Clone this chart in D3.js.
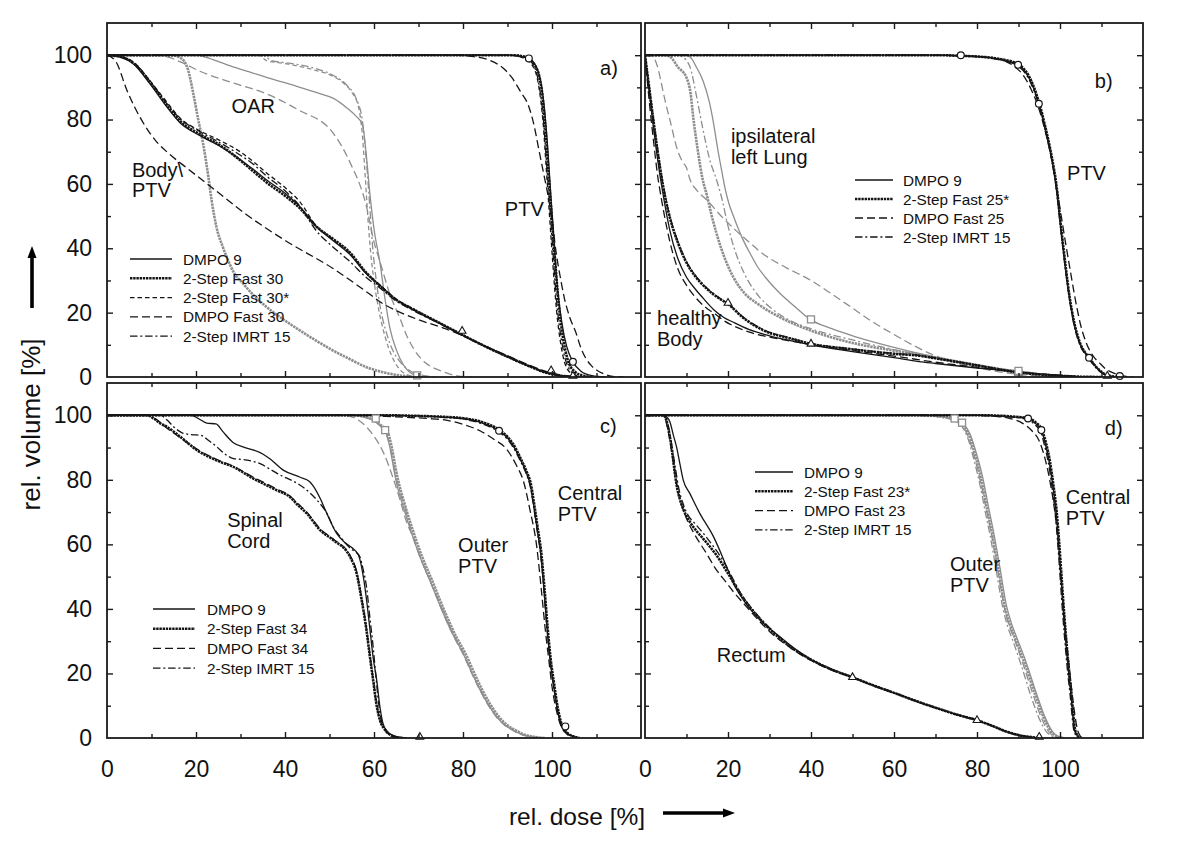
<!DOCTYPE html>
<html><head><meta charset="utf-8">
<script src="https://cdn.jsdelivr.net/npm/d3@7"></script>
<style>
body{margin:0;background:#fff;}
svg{display:block;font-family:"Liberation Sans",Arial,Helvetica,sans-serif;}
</style></head><body>
<svg id="chart" width="1200" height="845"></svg>
<script>
// ---------- tick values ----------
const doseLabels = [0, 20, 40, 60, 80, 100];
const volLabels = [0, 20, 40, 60, 80, 100];
const doseMajor = [20, 40, 60, 80, 100];
const doseMinor = [10, 30, 50, 70, 90, 110];
const volMajor = [20, 40, 60, 80, 100];
const volMinor = [10, 30, 50, 70, 90];

// ---------- legends ----------
const legendA = ['DMPO 9', '2-Step Fast 30', '2-Step Fast 30*', 'DMPO Fast 30', '2-Step IMRT 15'];
const legendB = ['DMPO 9', '2-Step Fast 25*', 'DMPO Fast 25', '2-Step IMRT 15'];
const legendC = ['DMPO 9', '2-Step Fast 34', 'DMPO Fast 34', '2-Step IMRT 15'];
const legendD = ['DMPO 9', '2-Step Fast 23*', 'DMPO Fast 23', '2-Step IMRT 15'];

// ---------- panel a: [dose %, volume %] ----------
const a_ptv_dmpo9 = [[0,100],[90,100],[93,99.6],[95.5,98.2],[97,94.5],[98,87],[99,72],[99.8,55],[100.5,41],[101.2,28],[102.2,17],[103.3,9.5],[104.7,4.7],[106.5,1.8],[109,0.4],[112,0]];
const a_ptv_2sf30 = [[0,100],[91,100],[94,99.5],[96,97.2],[97.5,91],[98.5,78],[99.3,62],[100,49],[100.7,36],[101.5,23],[102.5,12],[103.5,5.5],[105,1.8],[107,0.4],[109,0]];
const a_ptv_2sf30s = [[0,100],[90,100],[93,99.4],[95.5,97],[97,90.5],[98,79],[98.8,63],[99.5,49],[100.2,35],[101,21],[102,10],[103,3.8],[104.5,0.9],[106,0]];
const a_ptv_dmpof30 = [[0,100],[78,100],[82,99.6],[86,98.4],[89,96],[91,93],[93,88.5],[94.8,84],[96,78],[97,71],[98.3,62],[99.3,55],[100,49],[100.9,39],[102,30],[102.7,25],[104,18.5],[105.4,13.7],[106.5,9],[107.6,5.8],[109,3.3],[110,2.2],[112,0.8],[114,0.1],[116,0]];
const a_ptv_imrt15 = [[0,100],[90.5,100],[93.5,99.5],[95.5,97.6],[97,91.5],[98,81],[98.8,66],[99.6,51],[100.3,37],[101,24],[102,12.5],[103,5.5],[104.5,1.4],[106,0.2],[107.5,0]];

const a_body_dmpo9 = [[0,100],[3,99.4],[6,97.2],[9.7,91],[13.4,84],[16.4,79],[20.9,75],[25.4,71.7],[29.9,67.6],[32.8,64.6],[35.8,61.3],[40.3,56.8],[43.3,53],[47,46.8],[50.7,42.5],[54.5,38.2],[58.2,32.2],[61.4,28.4],[65,24],[69,20.8],[75,16.5],[80,12.9],[85,9.5],[91,5.7],[95,3.3],[99,1.3],[102,0.4],[106,0]];
const a_body_2sf30 = [[0,100],[3,99.5],[6,97.5],[9.7,91.6],[13.4,84.6],[16.4,79.6],[20.9,75.4],[25.4,72],[29.9,67.4],[32.8,64],[35.8,60.5],[40.3,56],[43.3,52.5],[47,46.8],[50.7,43],[54.5,38.8],[58.2,32.5],[61.4,28.2],[65,24],[69,20.9],[75,16.6],[80,13],[85,9.5],[91,5.7],[95,3.3],[99,1.2],[102,0.4],[106,0]];
const a_body_2sf30s = [[0,100],[3,99.6],[6,97.8],[9.7,92],[13.4,85.5],[16.4,80.5],[20.9,76.5],[25.4,73.5],[29.9,70],[32.8,67],[35.8,63.5],[40.3,58.5],[43.3,54.5],[47,47],[50.7,42.8],[54.5,38.5],[58.2,32.4],[61.4,28.5],[65,24.2],[69,21],[75,16.6],[80,13],[85,9.6],[91,5.8],[95,3.4],[99,1.3],[102,0.4],[106,0]];
const a_body_imrt15 = [[0,100],[3,99.5],[6,97.6],[9.7,91.8],[13.4,85],[16.4,80.3],[20.9,76.2],[25.4,72.8],[29.9,69],[32.8,66.2],[35.8,62.5],[40.3,57.5],[43.3,53.2],[47,45.5],[50.7,40.5],[54.5,36],[58.2,31],[61.4,27.6],[65,23.6],[69,20.5],[75,16.4],[80,12.8],[85,9.4],[91,5.6],[95,3.2],[99,1.2],[102,0.4],[106,0]];
const a_body_dmpof30 = [[0,100],[2,98],[4.5,89],[7.5,80.5],[11.2,73],[14,69.3],[17.9,65],[23.9,58.5],[31.3,50.5],[40.3,42.2],[50.7,33.8],[58,26.8],[62,22.8],[66,20],[70,17.8],[76,15],[80,12.8],[85,9.6],[91,6],[95,3.6],[99,1.6],[102,0.6],[106,0]];

const a_oar_dmpo9 = [[0,100],[20,100],[23,99],[27,97],[32,94.8],[36,93],[42,90.6],[48,88],[51,86.5],[54,83.5],[56,81],[57.4,78.5],[58.2,70],[59,58],[60,46],[61.4,35],[62.5,24],[63.6,15],[65,8.5],[66.5,4],[68,1.5],[70,0.3],[72,0]];
const a_oar_2sf30 = [[0,100],[14.5,100],[16.5,99.2],[18.2,95.5],[19.4,88],[20.5,80],[21.6,72.5],[22.8,62],[23.5,55],[24.6,46.6],[26,40.5],[26.9,37.3],[28.5,32.5],[30.6,29],[33,25.3],[35.8,21.8],[39.5,18],[43.3,14.5],[47,11.3],[50.7,8.3],[54.5,5.6],[58.2,3.1],[62,1.5],[65.7,0.5],[69.7,0]];
const a_oar_2sf30s = [[0,100],[34,100],[36,98.2],[40,97.4],[46,95.6],[50.7,93.5],[53,91.5],[55,88.5],[56.5,84],[57.4,75],[58,63],[58.6,50],[59.3,38],[60.2,28],[61.2,20],[62.5,12.5],[64,6.5],[65.5,2.8],[67.5,0.7],[70,0]];
const a_oar_imrt15 = [[0,100],[35,100],[37,98.3],[41,97.5],[47,95.8],[51,93.6],[54,90.5],[56,86.5],[57.4,79.5],[58.3,67],[59,54],[59.6,42],[60.5,30],[61.5,21],[62.8,13.7],[64.5,7.5],[65.7,5],[68,2],[71,0.5],[74,0]];
const a_oar_dmpof30 = [[0,100],[12,100],[14,99.3],[17,97.6],[20.9,95],[28,91.5],[35.8,88],[43,83],[50.7,76],[54.5,67],[58.3,53],[60,42],[61.4,35.6],[63.5,26],[65.9,18],[67.3,13],[68.9,8.8],[71.5,4.5],[74.9,2],[79,0.3],[82,0]];

const a_circles = [[94.8,99],[104.7,4.7]];
const a_triangles = [[79.8,14.3],[99.8,2],[104.7,0.3]];
const a_squares = [[69.7,0.5]];

// ---------- panel b ----------
const b_ptv_dmpo9 = [[0,100],[70,100],[76.1,99.8],[82,99.4],[86,98.6],[89.9,97],[92.5,93],[94.9,85],[96.5,77],[98,68],[99.1,59],[100.3,45],[101.3,34],[102.3,24.5],[103.5,16],[104.7,10.7],[107,6],[109.6,1.9],[111.5,0.4],[114,0]];
const b_ptv_2sf25s = [[0,100],[70,100],[76.1,99.8],[82,99.4],[86,98.7],[89.9,97.2],[92.5,93.5],[94.9,85.5],[96.5,77.5],[98,68.5],[99.1,60],[100.3,46],[101.3,35],[102.3,25],[103.5,16.5],[104.7,11],[107,6],[109.6,2],[111.5,0.5],[114,0]];
const b_ptv_imrt15 = [[0,100],[70,100],[76.1,99.8],[82,99.3],[86,98.4],[89.9,96.6],[92.5,92.5],[94.9,84.5],[96.5,76.5],[98,67.5],[99.1,58.5],[100.3,44.5],[101.3,33.5],[102.3,24],[103.5,15.5],[104.7,10.3],[107,5.6],[109.6,1.7],[111.5,0.4],[114,0]];
const b_ptv_dmpof25 = [[0,100],[72,100],[79,99.6],[84,99],[87,98],[89,96.5],[91,94],[93,89.5],[95,83],[96.7,75],[98.3,65.5],[99.3,58],[100.3,50],[101.3,42],[102.3,34.4],[104,22],[105,16],[106.3,10.7],[108,6.5],[109.5,4.4],[111,2.5],[112.8,1.3],[115,0.4],[117.6,0]];

const b_body_dmpo9 = [[0,100],[1,89],[2,78],[3,68],[4,59.5],[5,52],[6,45.5],[8,36.5],[10,31],[12,27.5],[14,24.5],[16.5,21],[19,18.5],[21.3,17],[25,14.8],[30,12.8],[35,11.3],[40,10],[50,7.9],[60,6],[66,4.8],[70,4.2],[80,2.8],[90,1.5],[100,0.5],[105,0.1],[110,0]];
const b_body_2sf25s = [[0,100],[1,90],[2,80],[3,70.5],[4,62],[5,55],[6,49.5],[8,41.5],[10,35.5],[12,31.5],[15,27.3],[18,24.3],[20,22.7],[23.5,18.6],[28.7,14.4],[35,12],[40,10.3],[50,8.6],[60,7.2],[66,6.6],[70,5.8],[80,3.6],[90,1.4],[100,0.4],[105,0.1],[110,0]];
const b_body_imrt15 = [[0,100],[1,90.5],[2,80.5],[3,71],[4,62.5],[5,55.5],[6,49.8],[8,41.8],[10,35.8],[12,31.8],[15,27.5],[18,24.5],[20,22.8],[23.5,18.8],[28.7,14.6],[35,12.1],[40,10.4],[50,8.7],[60,7.3],[66,6.7],[70,5.9],[80,3.7],[90,1.5],[100,0.4],[105,0.1],[110,0]];
const b_body_dmpof25 = [[0,100],[1,86],[2,74],[3,63],[4,55],[5,48],[6,42],[7.8,34],[10,28.5],[12,25],[15,21.2],[17,19.5],[19,17.5],[22,15.5],[25,14],[30,12.4],[35,11.2],[40,10.1],[50,8.2],[60,6.5],[70,4.6],[80,3],[90,1.5],[100,0.5],[106,0]];

const b_lung_dmpo9 = [[0,100],[9.5,100],[11,99.3],[12.3,96.5],[14,92],[15.5,85.5],[16.5,79],[17.5,71],[18.5,64],[19.4,58],[20.2,54],[21.3,50],[23.5,43],[25.5,38],[27,34.5],[29,31],[32.5,26],[36,22],[39.8,17.9],[45,15],[51,12.4],[60,9.2],[66,7.3],[75,4.8],[85,2.6],[90,1.9],[95,1],[100,0.4],[105,0]];
const b_lung_2sf25s = [[0,100],[5,100],[6.5,99],[7.8,96.5],[10,93],[11,88],[11.6,81],[12.7,70.6],[13.8,62],[15,56],[16,50.5],[18.3,40.2],[21.3,31],[24,26],[27.2,22.7],[32.5,18.6],[40,14.4],[51,10.3],[60,8.2],[66,7],[75,4.9],[85,2.6],[95,0.8],[102,0]];
const b_lung_imrt15 = [[0,100],[8,100],[9,99.5],[10.8,96.5],[12.3,88],[13.8,78],[15.5,68],[17.3,61],[18.7,54.5],[19.8,48],[21.5,40],[24,32],[27.5,25],[30.2,21.6],[35,17.5],[40,15],[50,11.5],[60,8.5],[70,5.8],[80,3.4],[90,1.5],[100,0.3],[104,0]];
const b_lung_dmpof25 = [[0,100],[1,100],[1.9,99.5],[3,96.5],[4.1,90.3],[5,85],[6,79.9],[7.8,70.6],[9,67],[10,65],[10.8,61.5],[12.5,58],[14.9,55],[18,50.5],[22,45.4],[25,42],[28.7,38],[34,34],[40,30],[45,25.8],[50,21.4],[55,17],[60,13.2],[65,9.6],[70,6.6],[75,4.5],[80,2.9],[85,1.7],[90,0.8],[95,0.3],[100,0]];

const b_circles = [[76.1,100],[89.9,97],[94.9,84.9],[107,6],[114.4,0.3]];
const b_triangles = [[20,23],[40,10.3],[90,1.3],[111.4,0.3]];
const b_squares = [[40,17.9],[90,1.9]];

// ---------- panel c ----------
const c_sc_dmpo9 = [[0,100],[19,100],[20.5,99],[22.4,97.6],[24.5,97.3],[26,95],[28.4,91.5],[31,90],[33,89.2],[35,88],[36.6,86.5],[39.6,83],[43.4,80.8],[45.5,79.5],[46.4,78],[48,74],[49.4,69.6],[51.6,63.4],[53.5,60.5],[55,59],[56.5,56.7],[57.6,50],[58.4,42],[59.1,33.5],[59.8,25],[60.6,18],[61.3,10],[62,4.6],[63,2],[64.3,0.8],[66,0.2],[67.3,0]];
const c_sc_2sf34 = [[0,100],[9,100],[10.5,99],[12,97.5],[13.5,96.4],[16.5,93.3],[20.2,89.2],[24.7,86],[28.4,84],[32.9,80.4],[38.1,76.8],[41.1,74.7],[43,72],[44.9,69.6],[47.9,64.4],[50.9,61.3],[54.6,56.2],[56.1,51],[57.2,43],[58.3,33.5],[59.1,25],[59.8,18],[60.6,10],[61.3,5.7],[62.5,2.5],[63.6,1],[65,0.2],[66.5,0]];
const c_sc_dmpof34 = [[0,100],[9.5,100],[11,98.8],[13,96.5],[16.5,93],[20.2,89.5],[24.7,86.3],[28.4,84.2],[32.9,80.8],[38.1,77.2],[41.1,75],[43,72.5],[44.9,70],[47.9,64.8],[50.9,61.6],[54.6,56.6],[56.1,51.5],[57.2,43.5],[58.3,34],[59.1,25.5],[59.8,18.5],[60.6,10.5],[61.3,6],[62.5,2.7],[63.6,1.1],[65,0.2],[66.5,0]];
const c_sc_imrt15 = [[0,100],[12,100],[13.5,98.5],[15,96.4],[17,94.5],[19,94],[21,93.8],[23,92],[24.7,90.2],[26.5,88],[28.4,86.6],[31,86.2],[34.4,85],[37,83],[39.6,81],[42,79.5],[44.9,76.8],[47,74],[49.4,69.6],[51,65],[52.4,62.4],[54.5,59],[56.8,56.2],[57.6,52],[58.3,47],[59.1,37],[59.8,28.4],[60.5,18],[61.2,9],[62,4],[63.5,1],[66,0]];

const c_out_dmpo9 = [[0,100],[55,100],[57.5,99.5],[59.5,98.6],[61,97.2],[62.5,95.4],[63.5,90.5],[64.3,84.5],[64.9,80],[66.5,72],[68.7,62.4],[70.5,55.5],[72.5,49],[74.4,42.5],[76.2,36.6],[78,31.3],[80,26.3],[81.9,20.5],[83.8,15],[85.6,10.5],[87.5,6.7],[89.4,4],[91.3,2.4],[93,1.2],[95,0.5],[98,0]];
const c_out_2sf34 = [[0,100],[56,100],[58,99.5],[60,98.5],[61.5,97],[63,95],[64,90],[64.8,84],[65.4,80],[67,72],[69.2,62.4],[71,55.5],[73,49],[74.9,42.5],[76.7,36.6],[78.5,31.3],[80.5,26.3],[82.4,20.5],[84.3,15],[86.1,10.5],[88,6.7],[89.9,4],[91.8,2.4],[93.5,1.2],[95.5,0.5],[98.5,0]];
const c_out_dmpof34 = [[0,100],[52,100],[55,99.5],[57,98],[58.3,96.4],[60,93.5],[62.1,88.5],[64.3,80.5],[65.8,74],[67.3,67],[68.7,62.4],[70.5,55.5],[72.5,49],[74.4,42.5],[76.2,36.6],[78,31.3],[80,26],[81.9,20.2],[83.8,14.8],[85.6,10.3],[87.5,6.5],[89.4,3.9],[91.3,2.3],[93,1.1],[95,0.4],[98,0]];
const c_out_imrt15 = [[0,100],[55.5,100],[58,99.4],[60,98.2],[61.5,96.5],[62.8,94],[63.8,89],[64.6,83],[65.3,79],[67,71],[69,61.5],[71,54],[73,47.5],[74.9,41.5],[76.6,36],[78.3,31],[80.2,26],[82,20.3],[84,14.8],[85.8,10.3],[87.7,6.5],[89.6,3.9],[91.5,2.3],[93.2,1.1],[95.2,0.4],[98,0]];

const c_cen_dmpo9 = [[0,100],[60,100],[70,99.8],[76,99.4],[80,99],[84,97.8],[88.1,95.2],[90,93],[91.3,90.5],[93,86],[94.3,82],[95.1,78.5],[96,71],[96.8,63.5],[97.4,58],[98.2,46],[98.9,34],[99.6,24],[100.4,16],[101.2,9],[101.9,4.8],[103,2],[104.9,0.4],[106,0]];
const c_cen_2sf34 = [[0,100],[61,100],[70,99.8],[76,99.5],[80,99.1],[84,98],[88.1,95.5],[90,93.3],[91.3,91],[93,86.5],[94.3,82.5],[95.2,79],[96.1,71.5],[96.9,64],[97.5,58.5],[98.3,46.5],[99,34.5],[99.7,24.5],[100.5,16.5],[101.3,9.3],[102,5],[103.1,2.1],[105,0.4],[106.2,0]];
const c_cen_dmpof34 = [[0,100],[55,100],[65,99.5],[72,99],[76.2,98.5],[80,97.2],[83.8,95.2],[87,92.5],[89.8,89.5],[92,84.5],[93.6,79.5],[95,71],[96.6,59],[97.6,46],[98.5,33.5],[99.3,24],[100,16],[101,8.5],[102,3.8],[103.5,1],[105,0]];
const c_cen_imrt15 = [[0,100],[60,100],[70,99.8],[76,99.3],[80,98.8],[84,97.5],[88.1,94.8],[90,92.5],[91.3,90],[93,85.5],[94.3,81.5],[95.1,78],[96,70.5],[96.8,63],[97.4,57.5],[98.2,45.5],[98.9,33.5],[99.6,23.5],[100.4,15.5],[101.2,8.7],[101.9,4.6],[103,1.9],[104.9,0.4],[106,0]];

const c_circles = [[88.1,95.2],[103,3.6]];
const c_triangles = [[70.3,0.3]];
const c_squares = [[60.4,99],[62.5,95.4]];

// ---------- panel d ----------
const d_rec_dmpo9 = [[0,100],[4.5,100],[5.2,99.5],[6,98],[6.8,94],[7.6,90.2],[8.4,85],[9.2,80],[10.8,75.8],[13.2,69.6],[16.5,62.4],[19.7,53],[21.5,47.5],[23.7,42.8],[27.7,36.6],[32.5,31.4],[36.5,27.3],[40.1,24.2],[45,21.3],[50,18.8],[55,16.3],[60.2,13.9],[65,11.6],[70.2,9.3],[75,7.3],[80,5.5],[84,3.6],[87,2],[90,0.9],[93,0.3],[95,0]];
const d_rec_2sf23s = [[0,100],[4.5,100],[5,99],[5.6,96],[6.4,90],[7,84],[7.6,78.5],[8.4,74],[9.2,71],[10.8,67],[12.5,64],[14,61.8],[15.5,59.5],[17.3,56.5],[20,51],[22.9,44.8],[26.9,38],[30,33.8],[35,28.3],[40,24.3],[45,21.2],[50,18.8],[55,16.3],[60.2,13.9],[65,11.6],[70.2,9.3],[75,7.3],[80,5.5],[84,3.6],[87,2],[90,0.9],[93,0.3],[95,0]];
const d_rec_dmpof23 = [[0,100],[4.5,100],[5,98.5],[5.6,95],[6.4,89],[7.2,82],[8,76],[9,71.5],[10,68],[12,63],[14.8,57.2],[17,52.5],[19.7,48],[21.5,45],[23.7,41.8],[27,37],[30,33],[35,28],[40,24],[45,21],[50,18.7],[55,16.2],[60.2,13.8],[65,11.5],[70.2,9.2],[75,7.2],[80,5.4],[84,3.5],[87,2],[90,0.9],[93,0.3],[95,0]];
const d_rec_imrt15 = [[0,100],[4.5,100],[5.1,99],[5.8,95.5],[6.6,89.5],[7.4,83],[8.2,77],[9.2,72.5],[10.4,69],[12,66.5],[14,63.5],[16,60.2],[18.3,56],[20.5,51],[23,45],[26.5,39],[30,34.2],[35,28.6],[40,24.4],[45,21.3],[50,18.9],[55,16.4],[60.2,14],[65,11.7],[70.2,9.4],[75,7.4],[80,5.6],[84,3.7],[87,2.1],[90,1],[93,0.3],[95,0]];

const d_out_dmpo9 = [[0,100],[65,100],[70,99.8],[72.5,99.5],[74.6,99],[76.4,97.7],[78.3,94.3],[79.9,88],[81.5,80],[82.7,72],[83.9,64.4],[85.5,53],[87.1,41],[88.3,35.5],[89.5,31.4],[91.9,23.2],[94.3,13.9],[96.3,6.7],[98.3,1.8],[99.5,0.5],[101,0]];
const d_out_2sf23s = [[0,100],[65,100],[70,99.8],[72.5,99.4],[74.6,98.8],[76.4,97.3],[78.2,93.5],[79.7,87],[81.2,79],[82.4,71],[83.6,63.5],[85.2,52],[86.8,40],[88,34.8],[89.2,30.8],[91.6,22.7],[94,13.5],[96,6.5],[98,1.7],[99.3,0.5],[100.8,0]];
const d_out_dmpof23 = [[0,100],[64,100],[69,99.8],[72,99.3],[74.6,98.5],[76.4,96.8],[78,93],[79.5,86.5],[81,78.5],[82.3,70.5],[83.5,63],[85,52],[86.5,41],[87.7,35],[88.9,31],[91.2,22.5],[93.5,13.5],[95.5,6.3],[97.5,1.6],[99,0.4],[100.5,0]];
const d_out_imrt15 = [[0,100],[64,100],[69,99.8],[72,99.2],[74.6,98.4],[76.4,96.5],[77.9,92.5],[79.3,86],[80.8,78],[82,70],[83.2,62.5],[84.7,51.5],[86.2,40.5],[87.4,34.5],[88.6,30.3],[90.8,22],[93,13],[95,6],[97,1.5],[98.6,0.4],[100.2,0]];

const d_cen_dmpo9 = [[0,100],[80,100],[86,99.8],[89,99.5],[92.3,99],[94,97.5],[95.5,95.4],[96.5,91],[97.5,85],[98.3,78],[99.1,69.6],[99.7,60],[100.3,49],[100.9,38],[101.5,28.4],[102.1,20],[102.7,12.9],[103.1,7],[103.5,2.6],[104,1],[104.7,0]];
const d_cen_2sf23s = [[0,100],[81,100],[86.5,99.8],[89.5,99.5],[92.3,99.1],[94.2,97.7],[95.6,95.6],[96.6,91.5],[97.6,85.5],[98.4,78.5],[99.2,70],[99.8,60.5],[100.4,49.5],[101,38.5],[101.6,29],[102.2,20.5],[102.8,13.2],[103.2,7.2],[103.6,2.8],[104.1,1],[104.8,0]];
const d_cen_dmpof23 = [[0,100],[78,100],[85,99.6],[88,99],[91,97.5],[93,95.5],[95,92],[96.5,86],[97.8,78],[98.8,69.6],[99.6,60],[100.3,49],[101,38],[101.7,28.4],[102.4,20],[103,12.9],[103.6,7],[104.2,2.6],[104.7,1],[105.5,0]];
const d_cen_imrt15 = [[0,100],[80,100],[85.5,99.8],[88.5,99.4],[92,98.8],[93.8,97.2],[95.3,95],[96.3,90.5],[97.3,84.5],[98.1,77.5],[98.9,69],[99.5,59.5],[100.1,48.5],[100.7,37.5],[101.3,28],[101.9,19.6],[102.5,12.6],[102.9,6.8],[103.3,2.5],[103.8,0.9],[104.5,0]];

const d_circles = [[92.3,99],[95.5,95.4]];
const d_triangles = [[50,18.8],[80,5.5],[95,0.3]];
const d_squares = [[74.6,99],[76.4,97.7]];

// ---------- rendering ----------
const BLACK = '#151515', GRAY = '#8e8e8e', FRAME = '#1a1a1a';
const FONT = '"Liberation Sans", Arial, Helvetica, sans-serif';
const STYLES = {
  solid:   {w: 1.3, dash: null},
  thick:   {w: 2.6, dash: '2.4,0.8'},
  short:   {w: 1.3, dash: '4.5,3'},
  long:    {w: 1.3, dash: '8,4'},
  dashdot: {w: 1.3, dash: '7.5,2.8,2,2.8'}
};

const panels = [
  { box: [107, 641, 23, 377], yLab: true, xLab: false,
    gray: [[a_oar_dmpof30,'long'],[a_oar_imrt15,'dashdot'],[a_oar_2sf30s,'short'],[a_oar_dmpo9,'solid'],[a_oar_2sf30,'thick']],
    black: [[a_body_dmpof30,'long'],[a_body_imrt15,'dashdot'],[a_body_2sf30s,'short'],[a_body_2sf30,'thick'],[a_body_dmpo9,'solid'],
            [a_ptv_dmpof30,'long'],[a_ptv_imrt15,'dashdot'],[a_ptv_2sf30s,'short'],[a_ptv_2sf30,'thick'],[a_ptv_dmpo9,'solid']],
    circles: a_circles, triangles: a_triangles, squares: a_squares,
    legend: {names: legendA, styles: ['solid','thick','short','long','dashdot'], x: 130, y: 259, len: 42, gap: 11, step: 19.3},
    notes: [{t:'OAR',d:28,v:82},{t:'Body\\',d:5.6,v:62.2},{t:'PTV',d:5.6,v:55.8},{t:'PTV',d:89.4,v:50},{t:'a)',d:110.8,v:93.8}] },
  { box: [645, 1143, 23, 377], yLab: false, xLab: false,
    gray: [[b_lung_dmpof25,'long'],[b_lung_imrt15,'dashdot'],[b_lung_dmpo9,'solid'],[b_lung_2sf25s,'thick']],
    black: [[b_body_dmpof25,'long'],[b_body_imrt15,'dashdot'],[b_body_2sf25s,'thick'],[b_body_dmpo9,'solid'],
            [b_ptv_dmpof25,'long'],[b_ptv_imrt15,'dashdot'],[b_ptv_2sf25s,'thick'],[b_ptv_dmpo9,'solid']],
    circles: b_circles, triangles: b_triangles, squares: b_squares,
    legend: {names: legendB, styles: ['solid','thick','long','dashdot'], x: 855, y: 180, len: 38, gap: 10, step: 19},
    notes: [{t:'ipsilateral',d:20.7,v:72.6},{t:'left Lung',d:20.7,v:66.1},{t:'PTV',d:101.7,v:61.2},{t:'healthy',d:2.9,v:16.1},{t:'Body',d:2.9,v:9.6},{t:'b)',d:108.4,v:89.8}] },
  { box: [107, 641, 383, 738], yLab: true, xLab: true,
    gray: [[c_out_dmpof34,'long'],[c_out_imrt15,'dashdot'],[c_out_dmpo9,'solid'],[c_out_2sf34,'thick']],
    black: [[c_sc_dmpof34,'long'],[c_sc_imrt15,'dashdot'],[c_sc_2sf34,'thick'],[c_sc_dmpo9,'solid'],
            [c_cen_dmpof34,'long'],[c_cen_imrt15,'dashdot'],[c_cen_2sf34,'thick'],[c_cen_dmpo9,'solid']],
    circles: c_circles, triangles: c_triangles, squares: c_squares,
    legend: {names: legendC, styles: ['solid','thick','long','dashdot'], x: 153, y: 609, len: 42, gap: 12, step: 19.7},
    notes: [{t:'Spinal',d:27,v:65.3},{t:'Cord',d:27,v:58.8},{t:'Outer',d:78.9,v:57.6},{t:'PTV',d:78.9,v:51.1},{t:'Central',d:101.3,v:73.8},{t:'PTV',d:101.3,v:67.3},{t:'c)',d:110.8,v:94.4}] },
  { box: [645, 1143, 383, 738], yLab: false, xLab: true,
    gray: [[d_out_dmpof23,'long'],[d_out_imrt15,'dashdot'],[d_out_dmpo9,'solid'],[d_out_2sf23s,'thick']],
    black: [[d_rec_dmpof23,'long'],[d_rec_imrt15,'dashdot'],[d_rec_2sf23s,'thick'],[d_rec_dmpo9,'solid'],
            [d_cen_dmpof23,'long'],[d_cen_imrt15,'dashdot'],[d_cen_2sf23s,'thick'],[d_cen_dmpo9,'solid']],
    circles: d_circles, triangles: d_triangles, squares: d_squares,
    legend: {names: legendD, styles: ['solid','thick','long','dashdot'], x: 755, y: 472, len: 38, gap: 11, step: 19.3},
    notes: [{t:'Rectum',d:17.3,v:23.5},{t:'Outer',d:73.5,v:51.8},{t:'PTV',d:73.5,v:45.2},{t:'Central',d:101.4,v:72.6},{t:'PTV',d:101.4,v:66.1},{t:'d)',d:110.8,v:93.8}] }
];

const svg = d3.select('#chart');
svg.append('rect').attr('width', 1200).attr('height', 845).attr('fill', '#fff');

function styleLine(sel, color, st) {
  sel.attr('fill', 'none').attr('stroke', color).attr('stroke-width', STYLES[st].w)
     .attr('stroke-dasharray', STYLES[st].dash).attr('stroke-linejoin', 'round');
}

panels.forEach((p, i) => {
  const [L, R, T, B] = p.box;
  const x = d3.scaleLinear().domain([0, 120]).range([L, R]);
  const y = d3.scaleLinear().domain([0, 110]).range([B, T]);
  const g = svg.append('g');
  const clipId = 'clip' + i;
  svg.append('clipPath').attr('id', clipId).append('rect')
     .attr('x', L).attr('y', T - 2).attr('width', R - L).attr('height', B - T + 2);

  const line = d3.line().x(d => x(d[0])).y(d => y(d[1])).curve(d3.curveMonotoneX);
  const curves = g.append('g').attr('clip-path', `url(#${clipId})`);
  p.gray.forEach(([data, st]) => styleLine(curves.append('path').attr('d', line(data)), GRAY, st));
  p.black.forEach(([data, st]) => styleLine(curves.append('path').attr('d', line(data)), BLACK, st));

  // markers
  const mk = g.append('g');
  mk.selectAll('circle').data(p.circles).join('circle')
    .attr('cx', d => x(d[0])).attr('cy', d => y(d[1])).attr('r', 3.4)
    .attr('fill', '#fff').attr('stroke', BLACK).attr('stroke-width', 1.2);
  mk.selectAll('path.tri').data(p.triangles).join('path').attr('class', 'tri')
    .attr('d', d3.symbol(d3.symbolTriangle, 26))
    .attr('transform', d => `translate(${x(d[0])},${y(d[1])})`)
    .attr('fill', '#fff').attr('stroke', BLACK).attr('stroke-width', 1.1);
  mk.selectAll('rect.sq').data(p.squares).join('rect').attr('class', 'sq')
    .attr('x', d => x(d[0]) - 3.5).attr('y', d => y(d[1]) - 3.5).attr('width', 7).attr('height', 7)
    .attr('fill', '#fff').attr('stroke', GRAY).attr('stroke-width', 1.3);

  // frame ticks (inward)
  const tickAxis = (axis, tx, ty, vals, len) => {
    const a = g.append('g').attr('transform', `translate(${tx},${ty})`)
      .call(axis.tickValues(vals).tickSize(-len).tickFormat(''));
    a.select('.domain').remove();
    a.selectAll('line').attr('stroke', FRAME).attr('stroke-width', 1.4);
  };
  [[doseMajor, 6], [doseMinor, 4]].forEach(([v, l]) => {
    tickAxis(d3.axisBottom(x), 0, B, v, l);
    tickAxis(d3.axisTop(x), 0, T, v, l);
  });
  [[volMajor, 6], [volMinor, 4]].forEach(([v, l]) => {
    tickAxis(d3.axisLeft(y), L, 0, v, l);
    tickAxis(d3.axisRight(y), R, 0, v, l);
  });

  g.append('rect').attr('x', L).attr('y', T).attr('width', R - L).attr('height', B - T)
    .attr('fill', 'none').attr('stroke', FRAME).attr('stroke-width', 1.8);

  // tick labels
  if (p.yLab) {
    const a = g.append('g').attr('transform', `translate(${L},0)`)
      .call(d3.axisLeft(y).tickValues(volLabels).tickSize(0).tickPadding(15));
    a.select('.domain').remove();
    a.attr('font-size', 23).attr('font-family', FONT);
    a.selectAll('text').attr('fill', '#111');
  }
  if (p.xLab) {
    const a = g.append('g').attr('transform', `translate(0,${B})`)
      .call(d3.axisBottom(x).tickValues(doseLabels).tickSize(0).tickPadding(23));
    a.select('.domain').remove();
    a.attr('font-size', 23).attr('font-family', FONT);
    a.selectAll('text').attr('fill', '#111');
  }

  // legend
  const lg = g.append('g');
  p.legend.names.forEach((name, k) => {
    const yy = p.legend.y + k * p.legend.step;
    styleLine(lg.append('line').attr('x1', p.legend.x).attr('x2', p.legend.x + p.legend.len)
      .attr('y1', yy).attr('y2', yy), BLACK, p.legend.styles[k]);
    lg.append('text').attr('x', p.legend.x + p.legend.len + p.legend.gap).attr('y', yy)
      .attr('dy', '0.36em').attr('font-size', 15.3).attr('font-family', FONT).attr('fill', '#111')
      .text(name);
  });

  // annotations
  g.selectAll('text.note').data(p.notes).join('text').attr('class', 'note')
    .attr('x', d => x(d.d)).attr('y', d => y(d.v))
    .attr('font-size', 20).attr('font-family', FONT).attr('fill', '#111')
    .text(d => d.t);
});

// axis titles and arrows
svg.append('text').attr('transform', 'translate(40,424.5) rotate(-90)')
  .attr('text-anchor', 'middle').attr('font-size', 26).attr('font-family', FONT).attr('fill', '#111')
  .text('rel. volume [%]');
svg.append('text').attr('x', 577).attr('y', 825)
  .attr('text-anchor', 'middle').attr('font-size', 24.5).attr('font-family', FONT).attr('fill', '#111')
  .text('rel. dose [%]');

svg.append('line').attr('x1', 32).attr('x2', 32).attr('y1', 308).attr('y2', 255)
  .attr('stroke', '#000').attr('stroke-width', 3.6);
svg.append('path').attr('d', 'M32,246 L27.5,258 L36.5,258 Z').attr('fill', '#000');
svg.append('line').attr('x1', 663).attr('x2', 725).attr('y1', 813).attr('y2', 813)
  .attr('stroke', '#000').attr('stroke-width', 3.6);
svg.append('path').attr('d', 'M735,813 L723,808.5 L723,817.5 Z').attr('fill', '#000');
</script>
</body></html>
